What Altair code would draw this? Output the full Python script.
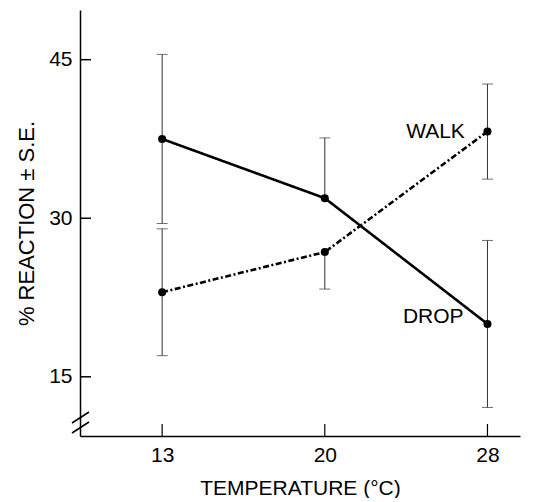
import altair as alt
import pandas as pd
import json

# ---- data ----
temps = ["13", "20", "28"]
drop = [37.5, 31.9, 20.0]
drop_se = [8.0, 5.7, 7.9]
drop_lower_shown = [True, False, True]
drop_upper_shown = [True, True, True]
walk = [23.0, 26.8, 38.2]
walk_se = [6.0, 3.5, 4.5]
walk_lower_shown = [True, True, True]
walk_upper_shown = [True, False, True]
y_ticks = [15, 30, 45]
label_text = ["WALK", "DROP"]
label_x = [1.5, 1.48]
label_y = [38.2, 20.7]

idx = list(range(len(temps)))

rows = []
for series, vals, ses, lo_s, hi_s in [
    ("DROP", drop, drop_se, drop_lower_shown, drop_upper_shown),
    ("WALK", walk, walk_se, walk_lower_shown, walk_upper_shown),
]:
    for i, v, s, lo, hi in zip(idx, vals, ses, lo_s, hi_s):
        rows.append({"series": series, "i": i, "v": v,
                     "lo": v - s if lo else v, "hi": v + s if hi else v,
                     "lo_cap": v - s if lo else None, "hi_cap": v + s if hi else None})
df = pd.DataFrame(rows)
caps = pd.concat([
    df[["i", "lo_cap"]].rename(columns={"lo_cap": "c"}),
    df[["i", "hi_cap"]].rename(columns={"hi_cap": "c"}),
]).dropna()

W, H = 440, 426
FONT = "Liberation Sans"

xs = alt.Scale(domain=[-0.505, 2.2], nice=False, zero=False)
ys = alt.Scale(domain=[9.4, 49.7], nice=False, zero=False)

xaxis = alt.Axis(values=idx, labelExpr=json.dumps(temps) + "[datum.value]",
                 ticks=False, grid=False, domainColor="black", domainWidth=1.5,
                 labelFontSize=21, labelFont=FONT, labelColor="black", labelPadding=8,
                 title="TEMPERATURE (°C)", titleFont=FONT, titleFontSize=21,
                 titleFontWeight="normal", titleColor="black", titlePadding=12)
yaxis = alt.Axis(values=y_ticks, ticks=False, grid=False, domainColor="black",
                 domainWidth=1.5, labelFontSize=21, labelFont=FONT, labelColor="black",
                 labelPadding=8, title="% REACTION ± S.E.", titleFont=FONT,
                 titleFontSize=22, titleFontWeight="normal", titleColor="black",
                 titlePadding=10)

base = alt.Chart(df)

bars = base.mark_rule(color="#333", strokeWidth=1).encode(
    x=alt.X("i:Q", scale=xs, axis=xaxis),
    y=alt.Y("lo:Q", scale=ys, axis=yaxis),
    y2="hi:Q",
)
capm = alt.Chart(caps).mark_tick(color="#333", orient="horizontal", size=11, thickness=1).encode(
    x=alt.X("i:Q", scale=xs), y=alt.Y("c:Q", scale=ys))

lines = base.mark_line(color="black", strokeWidth=2.6).encode(
    x=alt.X("i:Q", scale=xs), y=alt.Y("v:Q", scale=ys),
    strokeDash=alt.StrokeDash("series:N",
                              scale=alt.Scale(domain=["DROP", "WALK"], range=[[1, 0], [6, 2.5, 2, 2.5]]),
                              legend=None),
    detail="series:N",
)
pts = base.mark_circle(color="black", size=65, opacity=1).encode(
    x=alt.X("i:Q", scale=xs), y=alt.Y("v:Q", scale=ys))

lab = alt.Chart(pd.DataFrame({"t": label_text, "x": label_x, "y": label_y})).mark_text(
    align="left", baseline="middle", font=FONT, fontSize=21, color="black").encode(
    x=alt.X("x:Q", scale=xs), y=alt.Y("y:Q", scale=ys), text="t:N")

yt = alt.Chart(pd.DataFrame({"y": y_ticks})).mark_rule(color="black", strokeWidth=1.5).encode(
    y=alt.Y("y:Q", scale=ys), x=alt.value(0), x2=alt.value(11))
xt = alt.Chart(pd.DataFrame({"i": idx})).mark_rule(color="black", strokeWidth=1.2).encode(
    x=alt.X("i:Q", scale=xs), y=alt.value(H), y2=alt.value(H - 12))

brk_lines = alt.layer(
    alt.Chart(pd.DataFrame({"a": [0]})).mark_rule(color="black", strokeWidth=1.5).encode(
        x=alt.value(-8), x2=alt.value(9), y=alt.value(H - 3), y2=alt.value(H - 14)),
    alt.Chart(pd.DataFrame({"a": [0]})).mark_rule(color="black", strokeWidth=1.5).encode(
        x=alt.value(-8), x2=alt.value(9), y=alt.value(H - 13), y2=alt.value(H - 24)),
)

chart = alt.layer(bars, capm, lines, pts, lab, yt, xt, brk_lines).properties(
    width=W, height=H,
    autosize=alt.AutoSizeParams(type="none"),
    padding={"left": 72, "top": 2, "right": 5, "bottom": 62},
).configure(background="white", view=alt.ViewConfig(strokeWidth=0, stroke="transparent"))

chart.save("out.html", embed_options={"renderer": "svg", "actions": False})
